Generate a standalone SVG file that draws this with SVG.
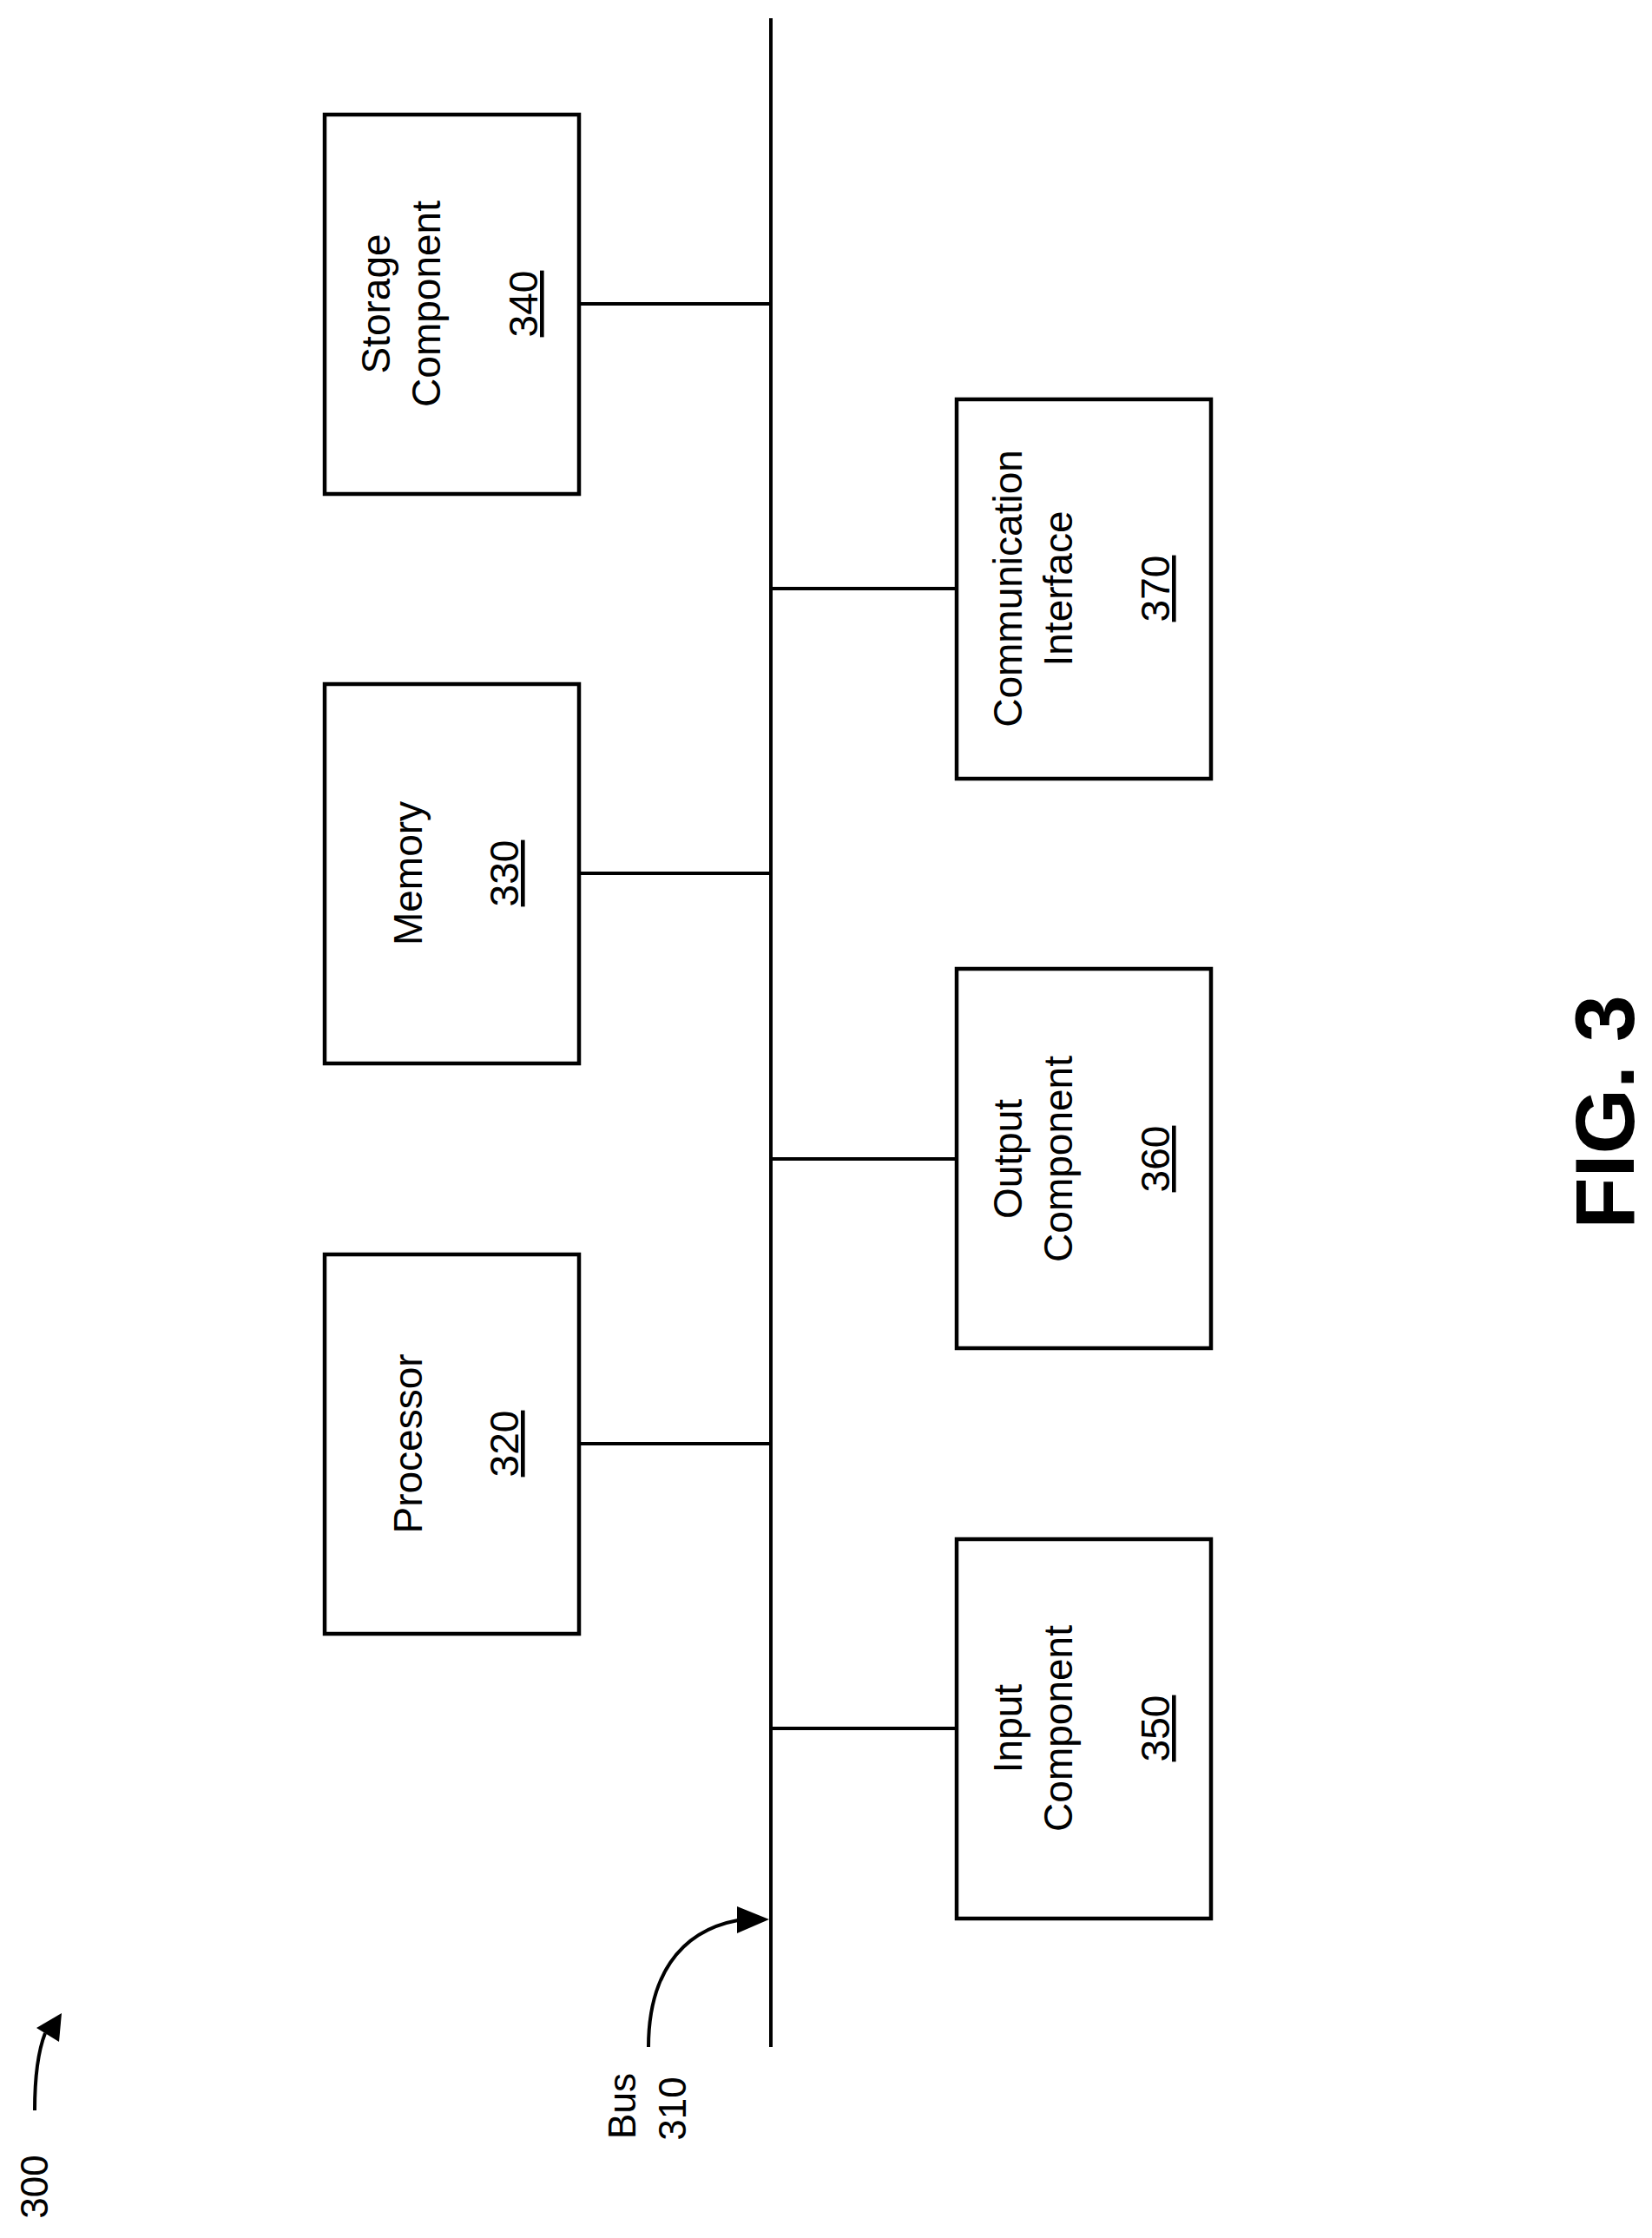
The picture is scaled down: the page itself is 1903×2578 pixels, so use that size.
<svg xmlns="http://www.w3.org/2000/svg" width="1903" height="2578" viewBox="0 0 1903 2578">
<style>
.b{fill:#fff;stroke:#000;stroke-width:4.5}
.l{fill:none;stroke:#000;stroke-width:4}
text{font-family:"Liberation Sans",Arial,sans-serif;font-size:46px;fill:#000;text-anchor:middle}
.u{text-decoration:underline}
</style>
<defs>
<marker id="ah" viewBox="0 0 10 10" refX="10" refY="5" markerWidth="10" markerHeight="10" markerUnits="userSpaceOnUse" orient="auto"><path d="M0,0L10,5L0,10z" fill="#000"/></marker>
<marker id="ah2" viewBox="0 0 10 10" refX="10" refY="5" markerWidth="38" markerHeight="32" markerUnits="userSpaceOnUse" orient="auto" preserveAspectRatio="none"><path d="M0,0L10,5L0,10z" fill="#000"/></marker>
</defs>
<rect width="1903" height="2578" fill="#fff"/>
<g id="connectors">
<line class="l" x1="888" y1="21" x2="888" y2="2358"/>
<line class="l" x1="667" y1="350" x2="888" y2="350"/>
<line class="l" x1="667" y1="1006" x2="888" y2="1006"/>
<line class="l" x1="667" y1="1663" x2="888" y2="1663"/>
<line class="l" x1="888" y1="678" x2="1102" y2="678"/>
<line class="l" x1="888" y1="1335" x2="1102" y2="1335"/>
<line class="l" x1="888" y1="1991" x2="1102" y2="1991"/>
<path class="l" d="M747,2358 C747,2280 780,2225 850,2212" />
<path d="M886,2211 L849,2196 L849,2227 Z" fill="#000"/>
<path class="l" d="M40,2431 C40,2395 43,2365 52,2342"/>
<path d="M71,2319 L42,2336 L68,2352 Z" fill="#000"/>
</g>
<g id="storage">
<rect class="b" x="374" y="132" width="293" height="437"/>
<text transform="translate(449,350) rotate(-90)">Storage</text>
<text transform="translate(507,350) rotate(-90)">Component</text>
<text class="u" transform="translate(619,350) rotate(-90)">340</text>
</g>
<g id="memory">
<rect class="b" x="374" y="788" width="293" height="437"/>
<text transform="translate(486,1006) rotate(-90)">Memory</text>
<text class="u" transform="translate(597,1006) rotate(-90)">330</text>
</g>
<g id="processor">
<rect class="b" x="374" y="1445" width="293" height="437"/>
<text transform="translate(486,1663) rotate(-90)">Processor</text>
<text class="u" transform="translate(597,1663) rotate(-90)">320</text>
</g>
<g id="comm">
<rect class="b" x="1102" y="460" width="293" height="437"/>
<text transform="translate(1177,678) rotate(-90)">Communication</text>
<text transform="translate(1235,678) rotate(-90)">Interface</text>
<text class="u" transform="translate(1347,678) rotate(-90)">370</text>
</g>
<g id="output">
<rect class="b" x="1102" y="1116" width="293" height="437"/>
<text transform="translate(1177,1335) rotate(-90)">Output</text>
<text transform="translate(1235,1335) rotate(-90)">Component</text>
<text class="u" transform="translate(1347,1335) rotate(-90)">360</text>
</g>
<g id="input">
<rect class="b" x="1102" y="1773" width="293" height="437"/>
<text transform="translate(1177,1991) rotate(-90)">Input</text>
<text transform="translate(1235,1991) rotate(-90)">Component</text>
<text class="u" transform="translate(1347,1991) rotate(-90)">350</text>
</g>
<g id="labels">
<text transform="translate(732,2426) rotate(-90)" style="font-size:44px">Bus</text>
<text transform="translate(790,2429) rotate(-90)" style="font-size:44px">310</text>
<text transform="translate(55,2519) rotate(-90)" style="font-size:44px">300</text>
<text transform="translate(1882,1281) rotate(-90)" style="font-size:97px;font-weight:bold">FIG. 3</text>
</g>
</svg>
